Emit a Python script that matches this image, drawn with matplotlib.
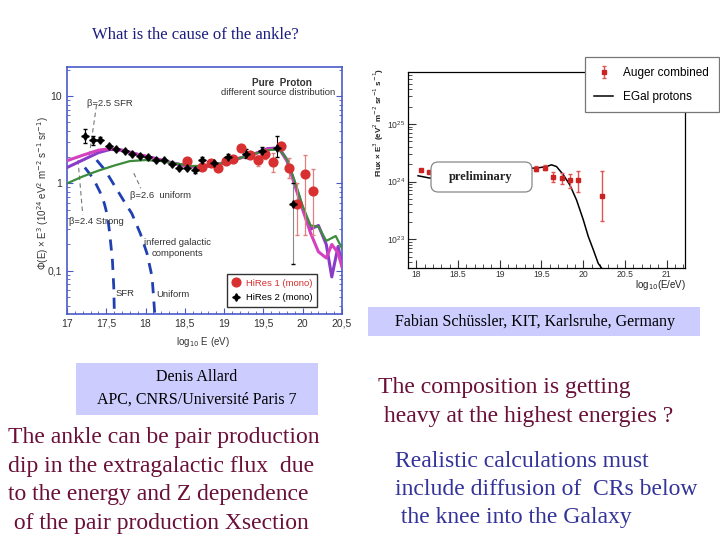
import matplotlib
matplotlib.use('Agg')
import matplotlib.pyplot as plt
import numpy as np
from matplotlib.patches import Rectangle, FancyBboxPatch
from matplotlib.ticker import FixedLocator, FixedFormatter, MultipleLocator, LogLocator, NullFormatter

# ---------------- Left panel: pure proton model (Allard) ----------------
hires2_x = [17.23, 17.33, 17.42, 17.53, 17.62, 17.74, 17.83, 17.93, 18.03, 18.13, 18.23,
            18.33, 18.43, 18.53, 18.63, 18.72, 18.87, 19.05, 19.28, 19.48, 19.67, 19.87]
hires2_y = [3.48, 3.1, 3.18, 2.7, 2.45, 2.37, 2.19, 2.07, 2.0, 1.85, 1.85,
            1.65, 1.5, 1.52, 1.41, 1.85, 1.72, 1.99, 2.17, 2.37, 2.52, 0.575]
hires2_lo = [2.92, 2.75, 2.95, 2.55, 2.33, 2.25, 2.08, 1.97, 1.9, 1.76, 1.76,
             1.57, 1.42, 1.44, 1.33, 1.7, 1.62, 1.85, 1.95, 2.15, 2.0, 0.12]
hires2_hi = [4.2, 3.45, 3.42, 2.85, 2.58, 2.5, 2.3, 2.18, 2.1, 1.95, 1.95,
             1.75, 1.6, 1.62, 1.5, 2.0, 1.82, 2.15, 2.45, 2.62, 3.45, 1.0]

hires1_x = [18.53, 18.72, 18.83, 18.92, 19.02, 19.11, 19.22, 19.33, 19.43, 19.52,
            19.62, 19.72, 19.83, 19.93, 20.03, 20.13]
hires1_y = [1.82, 1.55, 1.72, 1.49, 1.82, 1.9, 2.52, 2.11, 1.85, 2.15,
            1.74, 2.7, 1.52, 0.575, 1.27, 0.82]
hires1_lo = [1.72, 1.46, 1.62, 1.4, 1.72, 1.8, 2.4, 1.95, 1.6, 1.9,
             1.35, 2.45, 1.15, 0.26, 0.26, 0.26]
hires1_hi = [1.92, 1.64, 1.82, 1.58, 1.92, 2.0, 2.65, 2.3, 2.1, 2.4,
             2.22, 2.95, 1.95, 1.0, 2.11, 1.46]

model_x = [17.0, 17.2, 17.4, 17.55, 17.7, 17.9, 18.1, 18.3, 18.5, 18.6, 18.8, 19.0,
           19.2, 19.4, 19.55, 19.7, 19.8, 19.9, 20.0, 20.1, 20.2, 20.3, 20.37, 20.45, 20.5]
magenta_y = [1.82, 2.1, 2.4, 2.5, 2.4, 2.15, 1.95, 1.75, 1.6, 1.55, 1.58, 1.72,
             1.95, 2.2, 2.45, 2.5, 1.8, 0.95, 0.5, 0.27, 0.165, 0.14, 0.2, 0.16, 0.11]
purple_y = [1.52, 1.85, 2.25, 2.45, 2.4, 2.15, 1.95, 1.75, 1.6, 1.55, 1.58, 1.72,
            1.95, 2.2, 2.5, 2.55, 1.85, 1.0, 0.52, 0.3, 0.33, 0.2, 0.085, 0.19, 0.12]
green_x = [17.0, 17.2, 17.4, 17.6, 17.8, 18.0, 18.2, 18.4, 18.6, 18.8, 19.0, 19.2,
           19.4, 19.55, 19.7, 19.8, 19.9, 20.0, 20.1, 20.2, 20.3, 20.42, 20.5]
green_y = [1.0, 1.2, 1.4, 1.6, 1.8, 1.85, 1.8, 1.68, 1.58, 1.6, 1.72, 1.95,
           2.2, 2.4, 2.45, 1.9, 1.05, 0.55, 0.33, 0.32, 0.22, 0.25, 0.18]

gal_sfr_x = [17.227, 17.334, 17.419, 17.475, 17.518, 17.548, 17.578, 17.595, 17.603]
gal_sfr_y = [1.52, 1.14, 0.80, 0.59, 0.415, 0.245, 0.132, 0.066, 0.032]
gal_uni_x = [17.377, 17.484, 17.612, 17.719, 17.826, 17.933, 18.018, 18.083, 18.117]
gal_uni_y = [1.85, 1.42, 0.92, 0.64, 0.45, 0.267, 0.158, 0.085, 0.032]

left_xticks = [17, 17.5, 18, 18.5, 19, 19.5, 20, 20.5]
left_xticklabels = ['17', '17,5', '18', '18,5', '19', '19,5', '20', '20,5']
left_yticks = [0.1, 1, 10]
left_yticklabels = ['0,1', '1', '10']

# ---------------- Right panel: Auger vs EGal protons ----------------
auger_x = [18.05, 18.15, 19.44, 19.54, 19.64, 19.74, 19.84, 19.94, 20.23]
auger_y = [1.6e24, 1.45e24, 1.66e24, 1.75e24, 1.2e24, 1.14e24, 1.05e24, 1.05e24, 5.7e23]
auger_lo = [1.6e24, 1.45e24, 1.5e24, 1.58e24, 0.98e24, 0.9e24, 0.78e24, 0.65e24, 2.1e23]
auger_hi = [1.6e24, 1.45e24, 1.85e24, 1.95e24, 1.45e24, 1.38e24, 1.35e24, 1.5e24, 1.55e24]

egal_x = [18.02, 18.16, 19.38, 19.47, 19.56, 19.62, 19.68, 19.76, 19.84, 19.92,
          20.0, 20.06, 20.12, 20.18, 20.22]
egal_logy = [24.1, 24.06, 24.23, 24.24, 24.26, 24.29, 24.26, 24.12, 23.94, 23.68,
             23.34, 23.05, 22.82, 22.58, 22.5]

right_xticks = [18, 18.5, 19, 19.5, 20, 20.5, 21]
right_xticklabels = ['18', '18.5', '19', '19.5', '20', '20.5', '21']

# ---------------- Figure ----------------
W, H = 720, 540
fig = plt.figure(figsize=(7.2, 5.4), dpi=100)
fig.patch.set_facecolor('white')
SERIF = ['Liberation Serif', 'DejaVu Serif']
SANS = ['Liberation Sans', 'DejaVu Sans']

def fx(x):
    return x / W

def fy(y):
    return 1 - y / H

# ---- Left axes ----
frame_blue = '#4a5ac8'
ax1 = fig.add_axes([fx(67), fy(314), 275 / W, 247 / H])
ax1.set_xlim(17, 20.5)
ax1.set_yscale('log')
ax1.set_ylim(0.032, 21.5)
for s in ax1.spines.values():
    s.set_color(frame_blue)
    s.set_linewidth(1.2)
ax1.xaxis.set_major_locator(FixedLocator(left_xticks))
ax1.xaxis.set_major_formatter(FixedFormatter(left_xticklabels))
ax1.xaxis.set_minor_locator(MultipleLocator(0.1))
ax1.yaxis.set_major_locator(FixedLocator(left_yticks))
ax1.yaxis.set_major_formatter(FixedFormatter(left_yticklabels))
ax1.yaxis.set_minor_locator(LogLocator(base=10, subs=np.arange(2, 10)))
ax1.yaxis.set_minor_formatter(NullFormatter())
ax1.tick_params(which='both', direction='in', colors=frame_blue, labelcolor='#333333',
                labelsize=7.5, top=False, right=True)
ax1.tick_params(which='major', length=4)
ax1.tick_params(which='minor', length=2)
for lab in ax1.get_xticklabels() + ax1.get_yticklabels():
    lab.set_family(SANS)

ax1.plot(model_x, purple_y, color='#8a3cc8', lw=2.2, zorder=3)
ax1.plot(model_x, magenta_y, color='#d440c0', lw=2.2, zorder=3)
ax1.plot(green_x, green_y, color='#3c8c3c', lw=1.6, zorder=3)
ax1.plot(gal_sfr_x, gal_sfr_y, color='#2040b0', lw=2.0, ls=(0, (4, 3)), zorder=2)
ax1.plot(gal_uni_x, gal_uni_y, color='#2040b0', lw=2.0, ls=(0, (4, 3)), zorder=2)

# leader lines
ax1.plot([17.376, 17.28], [7.9, 2.0], color='#777777', lw=0.8, ls=(0, (4, 3)))
ax1.plot([17.85, 17.94], [1.31, 0.88], color='#777777', lw=0.8, ls=(0, (4, 3)))
ax1.plot([17.14, 17.2], [1.85, 0.44], color='#777777', lw=0.8, ls=(0, (4, 3)))

h2y = np.array(hires2_y)
e2 = ax1.errorbar(hires2_x, hires2_y,
                  yerr=[h2y - np.array(hires2_lo), np.array(hires2_hi) - h2y],
                  fmt='none', ecolor='black', elinewidth=0.8, capsize=1.5, zorder=5)
ecols = ['black'] * (len(hires2_x) - 1) + ['#888888']
e2[2][0].set_color(ecols)
h1y = np.array(hires1_y)
ax1.errorbar(hires1_x, hires1_y,
             yerr=[h1y - np.array(hires1_lo), np.array(hires1_hi) - h1y],
             fmt='none', ecolor='#e08080', elinewidth=0.9, capsize=1.5, zorder=4)
ax1.plot(hires1_x, hires1_y, 'o', color='#d83030', ms=6.3, mec='#d83030', zorder=6,
         label='HiRes 1 (mono)')
ax1.plot(hires2_x, hires2_y, marker=(4, 1, 0), ls='none', color='black', ms=5.5, zorder=7,
         label='HiRes 2 (mono)')

leg1 = ax1.legend(loc='lower right', bbox_to_anchor=(0.909, 0.028), borderaxespad=0,
                  labelcolor=['#d83030', 'black'], fancybox=False, edgecolor='#333333',
                  framealpha=1, handlelength=1.0, handletextpad=0.5, borderpad=0.5,
                  labelspacing=0.6, prop={'family': SANS, 'size': 6.8})
leg1.get_frame().set_linewidth(1.0)

tkw = dict(fontsize=6.8, family=SANS, color='#333333')
ax1.text(17.25, 8.2, 'β=2.5 SFR', va='center', ha='left', **tkw)
ax1.text(17.8, 0.735, 'β=2.6  uniform', va='center', ha='left', **tkw)
ax1.text(17.02, 0.37, 'β=2.4 Strong', va='center', ha='left', **tkw)
ax1.text(18.40, 0.21, 'inferred galactic', va='center', ha='center', **tkw)
ax1.text(18.40, 0.158, 'components', va='center', ha='center', **tkw)
ax1.text(17.62, 0.055, 'SFR', va='center', ha='left', **tkw)
ax1.text(18.13, 0.053, 'Uniform', va='center', ha='left', **tkw)
ax1.text(20.115, 14.0, 'Pure  Proton', va='center', ha='right', fontsize=7.2,
         family=SANS, fontweight='bold', color='#333333')
ax1.text(20.41, 10.9, 'different source distribution', va='center', ha='right', **tkw)

fig.text(fx(203), fy(342), r'log$_{10}$ E (eV)', ha='center', va='center',
         fontsize=7, family=SANS, color='#333333')
fig.text(fx(43), fy(193), r'Φ(E) × E$^{3}$ (10$^{24}$ eV$^{2}$ m$^{-2}$ s$^{-1}$ sr$^{-1}$)',
         ha='center', va='center', rotation=90, fontsize=7, family=SANS, color='#333333')

# ---- Right axes ----
ax2 = fig.add_axes([fx(408), fy(268), 277 / W, 196 / H])
ax2.set_xlim(17.9, 21.22)
ax2.set_yscale('log')
ax2.set_ylim(10 ** 22.5, 10 ** 25.9)
for s in ax2.spines.values():
    s.set_color('black')
    s.set_linewidth(0.9)
ax2.xaxis.set_major_locator(FixedLocator(right_xticks))
ax2.xaxis.set_major_formatter(FixedFormatter(right_xticklabels))
ax2.xaxis.set_minor_locator(MultipleLocator(0.1))
ax2.yaxis.set_major_locator(LogLocator(base=10))
ax2.yaxis.set_minor_locator(LogLocator(base=10, subs=np.arange(2, 10)))
ax2.yaxis.set_minor_formatter(NullFormatter())
ax2.tick_params(which='both', direction='in', labelsize=6.2, top=False, right=False,
                colors='#333333')
ax2.tick_params(which='major', length=6)
ax2.tick_params(which='minor', length=3)
ax2.tick_params(axis='x', which='both', pad=1.5)
ax2.tick_params(axis='y', which='both', pad=2)
for lab in ax2.get_xticklabels() + ax2.get_yticklabels():
    lab.set_family(SANS)

ax2.plot(egal_x, [10 ** v for v in egal_logy], color='black', lw=1.1, zorder=3,
         label='EGal protons')
ay = np.array(auger_y)
ax2.errorbar(auger_x, auger_y, yerr=[ay - np.array(auger_lo), np.array(auger_hi) - ay],
             fmt='s', ms=2.5, color='#cc2222', ecolor='#dd5555', elinewidth=1.0,
             capsize=1.5, zorder=4, label='Auger combined')

h, l = ax2.get_legend_handles_labels()
leg2 = ax2.legend([h[1], h[0]], [l[1], l[0]], loc='upper left',
                  bbox_to_anchor=(fx(585), fy(58), 134 / W, 0.001),
                  bbox_transform=fig.transFigure, mode='expand', fancybox=False,
                  borderaxespad=0, edgecolor='#777777', framealpha=1, handlelength=1.6,
                  handletextpad=0.8, borderpad=0.8, labelspacing=1.0,
                  prop={'family': SANS, 'size': 8.5})
leg2.get_frame().set_linewidth(0.9)
leg2.set_zorder(10)

prelim = FancyBboxPatch((fx(431), fy(192)), 101 / W, 30 / H,
                        boxstyle='round,pad=0,rounding_size=0.010',
                        mutation_aspect=W / H, transform=fig.transFigure,
                        facecolor='white', edgecolor='#888888', lw=0.9, zorder=20)
fig.patches.append(prelim)
fig.text(fx(481), fy(177), 'preliminary', ha='center', va='center', fontsize=9,
         family=SERIF, fontweight='bold', color='#222222', zorder=21)

fig.text(fx(379), fy(122), r'Flux × E$^{3}$ (eV$^{2}$ m$^{-2}$ sr$^{-1}$ s$^{-1}$)',
         ha='center', va='center', rotation=90, fontsize=5.8, family=SANS,
         color='#222222', fontweight='bold')
fig.text(fx(686), fy(285), r'log$_{10}$(E/eV)', ha='right', va='center',
         fontsize=7, family=SANS, color='#222222')

# ---- Slide text ----
fig.text(fx(92), fy(35), 'What is the cause of the ankle?', ha='left', va='center',
         fontsize=12, family=SERIF, color='#1c1c80')

fig.patches.append(Rectangle((fx(368), fy(336)), 332 / W, 29 / H, transform=fig.transFigure,
                             facecolor='#ccccff', edgecolor='none', zorder=1))
fig.text(fx(535), fy(322), 'Fabian Schüssler, KIT, Karlsruhe, Germany', ha='center',
         va='center', fontsize=11.5, family=SERIF, color='black')

fig.patches.append(Rectangle((fx(76), fy(415)), 242 / W, 52 / H, transform=fig.transFigure,
                             facecolor='#ccccff', edgecolor='none', zorder=1))
fig.text(fx(197), fy(377), 'Denis Allard', ha='center', va='center', fontsize=11.5,
         family=SERIF, color='black')
fig.text(fx(197), fy(400), 'APC, CNRS/Université Paris 7', ha='center', va='center',
         fontsize=11.5, family=SERIF, color='black')

maroon = '#6a1038'
bluetxt = '#333399'
left_lines = ['The ankle can be pair production', 'dip in the extragalactic flux  due',
              'to the energy and Z dependence', ' of the pair production Xsection']
left_base = [443, 472, 500, 529]
for t, b in zip(left_lines, left_base):
    fig.text(fx(8), fy(b), t, ha='left', va='baseline', fontsize=17, family=SERIF,
             color=maroon)

r1_lines = ['The composition is getting', ' heavy at the highest energies ?']
r1_base = [393, 422]
for t, b in zip(r1_lines, r1_base):
    fig.text(fx(378), fy(b), t, ha='left', va='baseline', fontsize=17, family=SERIF,
             color=maroon)

r2_lines = ['Realistic calculations must', 'include diffusion of  CRs below',
            ' the knee into the Galaxy']
r2_base = [467, 495, 523]
for t, b in zip(r2_lines, r2_base):
    fig.text(fx(395), fy(b), t, ha='left', va='baseline', fontsize=17, family=SERIF,
             color=bluetxt)

fig.savefig('out.png', dpi=100)
